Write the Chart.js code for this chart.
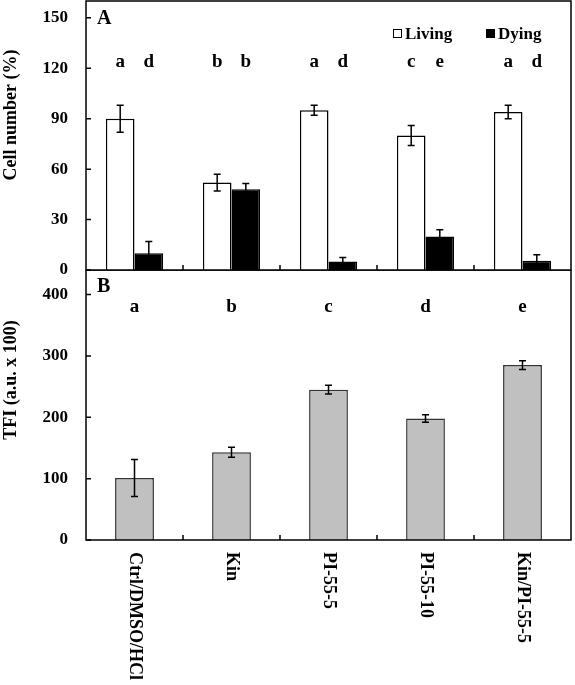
<!DOCTYPE html>
<html>
<head>
<meta charset="utf-8">
<script src="https://cdn.jsdelivr.net/npm/chart.js@4.4.1/dist/chart.umd.min.js"></script>
<style>
  html, body { margin: 0; padding: 0; background: #fff; }
  #wrap { position: relative; width: 575px; height: 685px; }
  .panel { position: absolute; left: 0; width: 575px; }
</style>
</head>
<body>
<div id="wrap">
  <div class="panel" style="top:0;height:285px"><canvas id="chartA"></canvas></div>
  <div class="panel" style="top:270px;height:415px"><canvas id="chartB"></canvas></div>
</div>
<script>
// ===== data =====
const groups = ["Ctrl/DMSO/HCl", "Kin", "PI-55-5", "PI-55-10", "Kin/PI-55-5"];

const living = [90, 52, 95, 80, 94];
const livingErr = [8, 5, 3, 6, 4];
const livingLetters = ["a", "b", "a", "c", "a"];

const dying = [10, 48, 5, 20, 5.5];
const dyingErr = [7, 3.5, 2.5, 4, 3.5];
const dyingLetters = ["d", "b", "d", "e", "d"];

const tfi = [101, 143, 245, 198, 285];
const tfiErr = [30, 8, 7, 6, 7];
const tfiLetters = ["a", "b", "c", "d", "e"];

const ticksA = [0, 30, 60, 90, 120, 150];
const ticksB = [0, 100, 200, 300, 400];

const serif = "'Liberation Serif', 'Times New Roman', serif";

// ===== plugin: frame, inward ticks, error bars, letters, titles =====
const decor = {
  id: "decor",
  afterDatasetsDraw(chart, args, opts) {
    const ctx = chart.ctx;
    const area = chart.chartArea;
    const x = chart.scales.x;
    const y = chart.scales.y;
    ctx.save();

    // error bars
    ctx.strokeStyle = "#000";
    ctx.lineWidth = 1.5;
    chart.data.datasets.forEach((ds, di) => {
      const meta = chart.getDatasetMeta(di);
      meta.data.forEach((bar, i) => {
        const v = ds.data[i], e = ds.errors[i];
        const top = y.getPixelForValue(v + e);
        const bot = y.getPixelForValue(v - e);
        ctx.beginPath();
        ctx.moveTo(bar.x, top); ctx.lineTo(bar.x, bot);
        ctx.moveTo(bar.x - 3.5, top); ctx.lineTo(bar.x + 3.5, top);
        ctx.moveTo(bar.x - 3.5, bot); ctx.lineTo(bar.x + 3.5, bot);
        ctx.stroke();
      });
    });

    // letters above bars
    ctx.fillStyle = "#000";
    ctx.font = "bold 19px " + serif;
    ctx.textAlign = "center";
    ctx.textBaseline = "alphabetic";
    chart.data.datasets.forEach((ds, di) => {
      const meta = chart.getDatasetMeta(di);
      meta.data.forEach((bar, i) => {
        ctx.fillText(ds.letters[i], bar.x, y.getPixelForValue(opts.letterAt));
      });
    });

    // frame
    ctx.lineWidth = 1.5;
    ctx.strokeRect(area.left, area.top, area.right - area.left, area.bottom - area.top);

    // inward ticks
    ctx.beginPath();
    y.ticks.forEach(t => {
      const py = y.getPixelForValue(t.value);
      ctx.moveTo(area.left, py); ctx.lineTo(area.left + 5, py);
    });
    for (let i = 0; i < groups.length - 1; i++) {
      const px = (x.getPixelForValue(i) + x.getPixelForValue(i + 1)) / 2;
      ctx.moveTo(px, area.bottom); ctx.lineTo(px, area.bottom - 5);
    }
    ctx.stroke();

    // panel label
    ctx.font = "bold 20px " + serif;
    ctx.textAlign = "left";
    ctx.textBaseline = "top";
    ctx.fillText(opts.panel, area.left + 11, opts.panelY);

    // y title
    ctx.save();
    ctx.font = "bold 18px " + serif;
    ctx.textAlign = "center";
    ctx.textBaseline = "middle";
    ctx.translate(11, opts.titleY);
    ctx.rotate(-Math.PI / 2);
    ctx.fillText(opts.title, 0, 0);
    ctx.restore();

    ctx.restore();
  }
};

const legendA = {
  id: "legendA",
  afterDraw(chart) {
    const ctx = chart.ctx;
    const items = [
      { ds: chart.data.datasets[0], x: 393 },
      { ds: chart.data.datasets[1], x: 486 }
    ];
    ctx.save();
    ctx.font = "bold 17px " + serif;
    ctx.textBaseline = "alphabetic";
    ctx.textAlign = "left";
    items.forEach(it => {
      ctx.fillStyle = it.ds.backgroundColor;
      ctx.fillRect(it.x, 29, 9, 9);
      ctx.strokeStyle = "#000";
      ctx.lineWidth = 1;
      ctx.strokeRect(it.x + 0.5, 29.5, 8, 8);
      ctx.fillStyle = "#000";
      ctx.fillText(it.ds.label, it.x + 12, 39);
    });
    ctx.restore();
  }
};

const xLabels = {
  id: "xLabels",
  afterDraw(chart) {
    const ctx = chart.ctx;
    const x = chart.scales.x;
    ctx.save();
    ctx.font = "bold 18px " + serif;
    ctx.fillStyle = "#000";
    ctx.textAlign = "left";
    ctx.textBaseline = "middle";
    groups.forEach((g, i) => {
      ctx.save();
      ctx.translate(x.getPixelForValue(i), chart.chartArea.bottom + 12);
      ctx.rotate(Math.PI / 2);
      ctx.fillText(g, 0, 0);
      ctx.restore();
    });
    ctx.restore();
  }
};

function yAxis(max, tickVals) {
  return {
    min: 0,
    max: max,
    afterFit: s => { s.width = 86; s.paddingTop = 0; s.paddingBottom = 0; },
    afterBuildTicks: s => { s.ticks = tickVals.map(v => ({ value: v })); },
    grid: { display: false, drawTicks: false },
    border: { display: false },
    ticks: {
      padding: 18,
      color: "#000",
      font: { family: serif, size: 17, weight: "bold" }
    }
  };
}

// ===== panel A =====
new Chart(document.getElementById("chartA"), {
  type: "bar",
  data: {
    labels: groups,
    datasets: [
      {
        label: "Living",
        data: living,
        errors: livingErr,
        letters: livingLetters,
        backgroundColor: "#ffffff",
        borderColor: "#000000",
        borderWidth: 1.5,
        categoryPercentage: 0.59,
        barPercentage: 1.0
      },
      {
        label: "Dying",
        data: dying,
        errors: dyingErr,
        letters: dyingLetters,
        backgroundColor: "#000000",
        borderColor: "#000000",
        borderWidth: 1.5,
        categoryPercentage: 0.59,
        barPercentage: 1.0
      }
    ]
  },
  options: {
    responsive: true,
    maintainAspectRatio: false,
    animation: false,
    layout: { padding: { top: 1, right: 4, bottom: 15, left: 0 } },
    plugins: {
      legend: { display: false },
      tooltip: { enabled: false },
      decor: { letterAt: 121, panel: "A", panelY: 9, title: "Cell number (%)", titleY: 115 }
    },
    scales: {
      x: { display: false },
      y: yAxis(160, ticksA)
    }
  },
  plugins: [decor, legendA]
});

// ===== panel B =====
new Chart(document.getElementById("chartB"), {
  type: "bar",
  data: {
    labels: groups,
    datasets: [
      {
        label: "TFI",
        data: tfi,
        errors: tfiErr,
        letters: tfiLetters,
        backgroundColor: "#c0c0c0",
        borderColor: "#333333",
        borderWidth: 1.5,
        categoryPercentage: 0.40,
        barPercentage: 1.0
      }
    ]
  },
  options: {
    responsive: true,
    maintainAspectRatio: false,
    animation: false,
    layout: { padding: { top: 0, right: 4, bottom: 0, left: 0 } },
    plugins: {
      legend: { display: false },
      tooltip: { enabled: false },
      decor: { letterAt: 372, panel: "B", panelY: 7, title: "TFI (a.u. x 100)", titleY: 110 }
    },
    scales: {
      x: {
        afterFit: s => { s.height = 145; },
        grid: { display: false, drawTicks: false },
        border: { display: false },
        ticks: { display: false }
      },
      y: yAxis(440, ticksB)
    }
  },
  plugins: [decor, xLabels]
});
</script>
</body>
</html>
